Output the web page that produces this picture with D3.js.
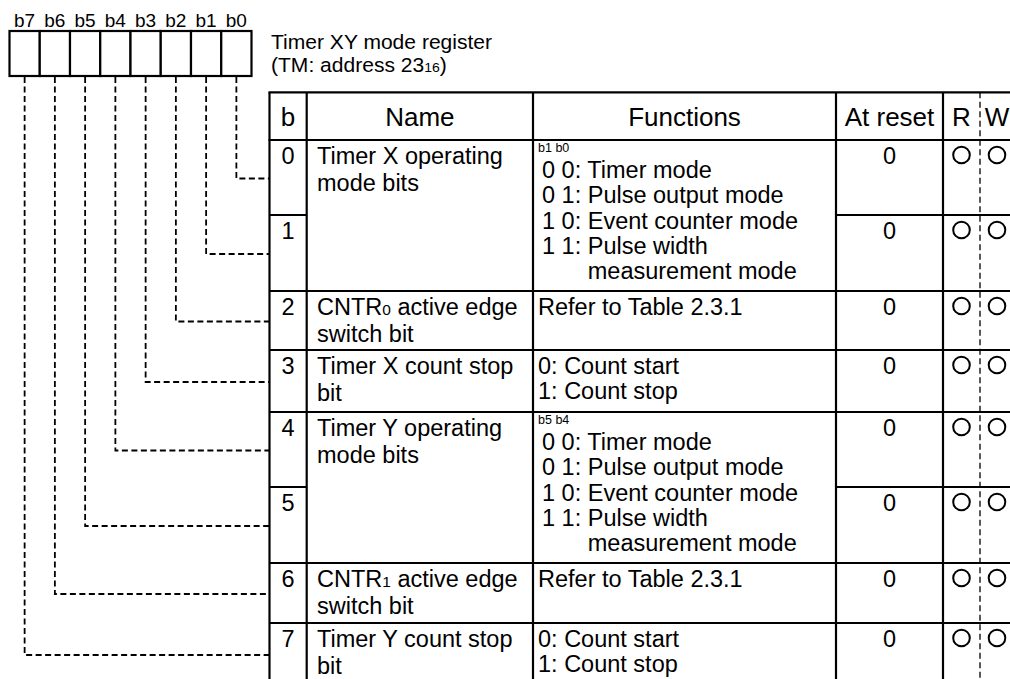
<!DOCTYPE html>
<html><head><meta charset="utf-8">
<script src="https://cdn.jsdelivr.net/npm/d3@7"></script>
<style>html,body{margin:0;padding:0;background:#fff;} svg{display:block;font-family:"Liberation Sans",Arial,Helvetica,sans-serif;}</style>
</head><body><svg id="c" width="1010" height="679"></svg>
<script>
// ---------------- data ----------------
const registerBits = ["b7","b6","b5","b4","b3","b2","b1","b0"];
const bitNumbers = [0,1,2,3,4,5,6,7];
const headers = ["b","Name","Functions","At reset","R","W"];
const titleLines = ["Timer XY mode register", "(TM: address 23_16)"];
const bitNames = [
  ["Timer X operating","mode bits"], [],
  ["CNTR_0 active edge","switch bit"],
  ["Timer X count stop","bit"],
  ["Timer Y operating","mode bits"], [],
  ["CNTR_1 active edge","switch bit"],
  ["Timer Y count stop","bit"]
];
const nameSpan = [2,0,1,1,2,0,1,1];
const functionLabels = ["b1 b0", null, "", "", "b5 b4", null, "", ""];
const functionLines = [
  ["0 0: Timer mode","0 1: Pulse output mode","1 0: Event counter mode","1 1: Pulse width","\tmeasurement mode"], [],
  ["Refer to Table 2.3.1"],
  ["0: Count start","1: Count stop"],
  ["0 0: Timer mode","0 1: Pulse output mode","1 0: Event counter mode","1 1: Pulse width","\tmeasurement mode"], [],
  ["Refer to Table 2.3.1"],
  ["0: Count start","1: Count stop"]
];
const resetValues = ["0","0","0","0","0","0","0","0"];
const readable = [true,true,true,true,true,true,true,true];
const writable = [true,true,true,true,true,true,true,true];

// ---------------- layout ----------------
const W = 1010, H = 679;
const L = {regLeft:9.5, regRight:251.5, regTop:31, regBottom:76, headerTop:92.3, headerBottom:140, tableBottom:700};
const colEdges = [269.5, 306.7, 533, 836, 943, 980, 1014];
const rowHeights = [75, 76, 59, 62, 75, 76, 60, 62];
const rowTops = [L.headerBottom].concat(Array.from(d3.cumsum(rowHeights), v => v + L.headerBottom));
const bodySize = 23.5, headSize = 26;

const svg = d3.select("#c");
svg.append("rect").attr("width", W).attr("height", H).attr("fill", "#fff");

const xReg = d3.scaleBand().domain(registerBits).range([L.regLeft, L.regRight]);
const yRow = d3.scaleOrdinal().domain(bitNumbers).range(rowTops.slice(0, 8));
const hRow = d3.scaleOrdinal().domain(bitNumbers).range(rowHeights);
const colCenter = i => (colEdges[i] + colEdges[i+1]) / 2;

// text with "_n" subscript markers
function richText(sel, str, size, subSize) {
  const parts = str.split(/_(\d+)/);
  parts.forEach((p, i) => {
    if (!p) return;
    sel.append("tspan").attr("font-size", i % 2 ? subSize : size).text(p);
  });
  return sel;
}

// ---------------- register boxes ----------------
const reg = svg.append("g");
reg.selectAll("rect").data(registerBits).join("rect")
  .attr("x", d => xReg(d)).attr("y", L.regTop)
  .attr("width", xReg.bandwidth()).attr("height", L.regBottom - L.regTop)
  .attr("fill", "#fff").attr("stroke", "#000").attr("stroke-width", 2.2);
reg.selectAll("text").data(registerBits).join("text")
  .attr("x", d => xReg(d) + xReg.bandwidth() / 2).attr("y", 27)
  .attr("text-anchor", "middle").attr("font-size", 19).text(d => d);

// title (slightly widened to match the reference's proportions)
const title = svg.append("g").attr("transform", "translate(271,0) scale(1.08,1)");
titleLines.forEach((t, i) => {
  richText(title.append("text").attr("x", 0).attr("y", 49.5 + i * 22.5), t, 19.5, 13);
});

// ---------------- leader lines ----------------
svg.append("g").selectAll("path").data(bitNumbers).join("path")
  .attr("d", k => {
    const x = xReg("b" + k) + xReg.bandwidth() / 2;
    const ym = yRow(k) + hRow(k) / 2 + 1;
    return `M${x},${L.regBottom + 1}V${ym}H${colEdges[0]}`;
  })
  .attr("fill", "none").attr("stroke", "#000").attr("stroke-width", 1.8)
  .attr("stroke-dasharray", "6,3.5");

// ---------------- table grid ----------------
const grid = svg.append("g").attr("stroke", "#000").attr("stroke-width", 2.2);
const xEnd = colEdges[colEdges.length - 1];
grid.append("line").attr("x1", colEdges[0] - 1).attr("x2", xEnd).attr("y1", L.headerTop).attr("y2", L.headerTop);
grid.append("line").attr("x1", colEdges[0] - 1).attr("x2", xEnd).attr("y1", L.headerBottom).attr("y2", L.headerBottom);
bitNumbers.forEach(k => {
  const yb = rowTops[k + 1];
  if (nameSpan[k] === 2) {
    grid.append("line").attr("x1", colEdges[0]).attr("x2", colEdges[1]).attr("y1", yb).attr("y2", yb);
    grid.append("line").attr("x1", colEdges[3]).attr("x2", xEnd).attr("y1", yb).attr("y2", yb);
  } else {
    grid.append("line").attr("x1", colEdges[0]).attr("x2", xEnd).attr("y1", yb).attr("y2", yb);
  }
});
colEdges.forEach((x, i) => {
  const ln = grid.append("line").attr("x1", x).attr("x2", x).attr("y1", L.headerTop).attr("y2", L.tableBottom);
  if (i === 5) ln.attr("stroke-width", 1.3).attr("stroke-dasharray", "6,3.5");
});

// ---------------- header text ----------------
svg.append("g").selectAll("text").data(headers).join("text")
  .attr("x", (d, i) => colCenter(i)).attr("y", 126)
  .attr("text-anchor", "middle").attr("font-size", headSize).text(d => d);

// ---------------- body ----------------
const body = svg.append("g").attr("font-size", bodySize);
// bit numbers
body.selectAll("text.bn").data(bitNumbers).join("text").attr("class", "bn")
  .attr("x", colCenter(0)).attr("y", k => yRow(k) + 24)
  .attr("text-anchor", "middle").text(k => k);
// names
bitNumbers.forEach(k => {
  bitNames[k].forEach((t, i) => {
    richText(body.append("text").attr("x", 317).attr("y", yRow(k) + 24 + i * 26.5), t, bodySize, 15.5);
  });
});
// functions
bitNumbers.forEach(k => {
  const lab = functionLabels[k];
  if (lab === null) return;
  const top = yRow(k);
  let x0 = 538, yStart = top + 24;
  if (lab) {
    body.append("text").attr("x", 538).attr("y", top + 11.5).attr("font-size", 12.5).text(lab);
    x0 = 542; yStart = top + 38;
  }
  let prefixW = 0;
  functionLines[k].forEach((t, i) => {
    let x = x0, txt = t;
    if (t.startsWith("\t")) { x = x0 + prefixW; txt = t.slice(1); }
    body.append("text").attr("x", x).attr("y", yStart + i * 25.3).text(txt);
    const m = txt.match(/^\d \d: /);
    if (m) {
      const tmp = body.append("text").attr("x", 0).attr("y", -100).text(m[0].replace(/ $/, "\u00a0"));
      prefixW = tmp.node().getComputedTextLength();
      tmp.remove();
    }
  });
});
// reset values
body.selectAll("text.rv").data(bitNumbers).join("text").attr("class", "rv")
  .attr("x", colCenter(3)).attr("y", k => yRow(k) + 24)
  .attr("text-anchor", "middle").text(k => resetValues[k]);
// R / W circles
const circ = svg.append("g").attr("fill", "none").attr("stroke", "#000").attr("stroke-width", 2);
circ.selectAll("circle.r").data(bitNumbers.filter(k => readable[k])).join("circle").attr("class", "r")
  .attr("cx", colCenter(4)).attr("cy", k => yRow(k) + 15).attr("r", 8.3);
circ.selectAll("circle.w").data(bitNumbers.filter(k => writable[k])).join("circle").attr("class", "w")
  .attr("cx", colCenter(5)).attr("cy", k => yRow(k) + 15).attr("r", 8.3);
</script>
</body></html>
